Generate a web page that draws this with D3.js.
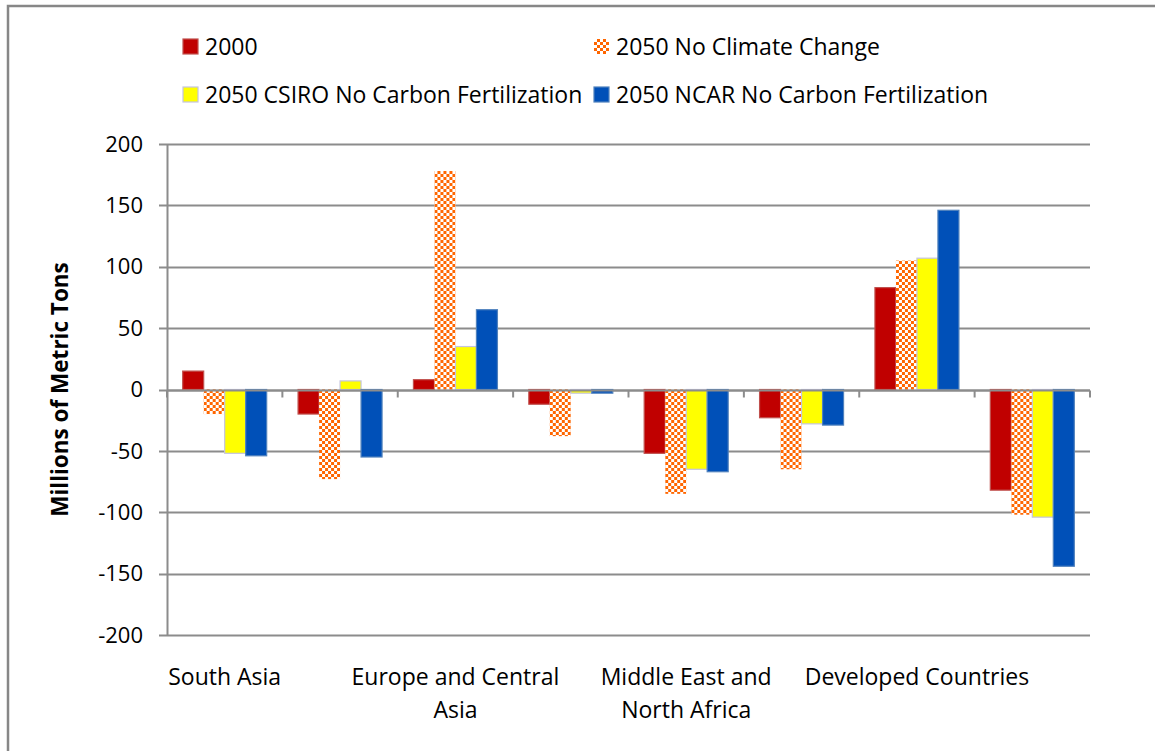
<!DOCTYPE html>
<html>
<head>
<meta charset="utf-8">
<script src="https://cdn.jsdelivr.net/npm/d3@7"></script>
<style>
  html, body { margin: 0; padding: 0; background: #fff; }
  svg { display: block; font-family: "Open Sans", sans-serif; }
</style>
</head>
<body>
<svg id="chart" width="1155" height="751"></svg>
<script>
// Regions (only every other one gets an axis label, as in the source layout)
const categories = [
  "South Asia",
  "East Asia and Pacific",
  "Europe and Central Asia",
  "Latin America and Caribbean",
  "Middle East and North Africa",
  "Sub-Saharan Africa",
  "Developed Countries",
  "Developing Countries"
];

const seriesNames = [
  "2000",
  "2050 No Climate Change",
  "2050 CSIRO No Carbon Fertilization",
  "2050 NCAR No Carbon Fertilization"
];

// Net trade, millions of metric tons
const values2000      = [15, -20,   8, -12, -52, -23,  83,  -82];
const valuesNoCC      = [-20, -73, 178, -38, -85, -65, 105, -102];
const valuesCSIRO     = [-52,   7,  35,  -3, -65, -28, 107, -104];
const valuesNCAR      = [-54, -55,  65,  -3, -67, -29, 146, -144];

const yTicks = [-200, -150, -100, -50, 0, 50, 100, 150, 200];

const seriesValues = [values2000, valuesNoCC, valuesCSIRO, valuesNCAR];

const svg = d3.select("#chart");

// Pattern for the checkered series
const defs = svg.append("defs");
const pat = defs.append("pattern")
  .attr("id", "checker")
  .attr("patternUnits", "userSpaceOnUse")
  .attr("width", 6).attr("height", 6);
pat.append("rect").attr("width", 6).attr("height", 6).attr("fill", "#FF6600");
pat.append("rect").attr("x", 0).attr("y", 0).attr("width", 3).attr("height", 3).attr("fill", "#fff");
pat.append("rect").attr("x", 3).attr("y", 3).attr("width", 3).attr("height", 3).attr("fill", "#fff");

const fills   = ["#C00000", "url(#checker)", "#FFFF00", "#0050B8"];
const strokes = ["#C0504D", "none", "#C4C4E0", "#4F81BD"];

// Outer frame
svg.append("rect")
  .attr("x", 8).attr("y", 6)
  .attr("width", 1160).attr("height", 760)
  .attr("fill", "none")
  .attr("stroke", "#878787")
  .attr("stroke-width", 2.5);

const plot = { left: 167, right: 1090, top: 144, bottom: 635 };

const x0 = d3.scaleBand()
  .domain(categories)
  .range([plot.left, plot.right])
  .paddingInner(0.272)
  .paddingOuter(0.136);

const x1 = d3.scaleBand()
  .domain(d3.range(seriesNames.length))
  .range([0, x0.bandwidth()]);

const y = d3.scaleLinear()
  .domain([-200, 200])
  .range([plot.bottom, plot.top]);

// Gridlines
svg.append("g")
  .selectAll("line")
  .data(yTicks)
  .join("line")
  .attr("x1", plot.left - 8)
  .attr("x2", plot.right)
  .attr("y1", d => Math.round(y(d)) + 0.5)
  .attr("y2", d => Math.round(y(d)) + 0.5)
  .attr("stroke", "#8C8C8C")
  .attr("stroke-width", 2);

// Y axis line
svg.append("line")
  .attr("x1", plot.left + 0.5).attr("x2", plot.left + 0.5)
  .attr("y1", plot.top).attr("y2", plot.bottom + 1)
  .attr("stroke", "#8C8C8C")
  .attr("stroke-width", 2);

// Y tick labels
svg.append("g")
  .selectAll("text")
  .data(yTicks)
  .join("text")
  .attr("x", plot.left - 24)
  .attr("y", d => y(d))
  .attr("dy", "0.35em")
  .attr("text-anchor", "end")
  .attr("font-size", 22)
  .attr("fill", "#000")
  .text(d => d);

// Y axis title
svg.append("text")
  .attr("transform", `translate(68, ${(plot.top + plot.bottom) / 2}) rotate(-90)`)
  .attr("text-anchor", "middle")
  .attr("font-size", 22.5)
  .attr("font-weight", "bold")
  .text("Millions of Metric Tons");

// Bars
const groups = svg.append("g")
  .selectAll("g")
  .data(categories)
  .join("g")
  .attr("transform", d => `translate(${x0(d)},0)`);

groups.selectAll("rect")
  .data((c, ci) => seriesValues.map((vals, si) => ({ si, v: vals[ci] })))
  .join("rect")
  .attr("x", d => x1(d.si))
  .attr("width", x1.bandwidth())
  .attr("y", d => y(Math.max(0, d.v)))
  .attr("height", d => Math.abs(y(d.v) - y(0)))
  .attr("fill", d => fills[d.si])
  .attr("stroke", d => strokes[d.si])
  .attr("stroke-width", 1.2);

// Zero axis with category ticks
const zeroY = Math.round(y(0)) + 0.5;
svg.append("line")
  .attr("x1", plot.left).attr("x2", plot.right)
  .attr("y1", zeroY).attr("y2", zeroY)
  .attr("stroke", "#8C8C8C").attr("stroke-width", 2);

const step = (plot.right - plot.left) / categories.length;
svg.append("g")
  .selectAll("line")
  .data(d3.range(categories.length + 1))
  .join("line")
  .attr("x1", i => plot.left + i * step)
  .attr("x2", i => plot.left + i * step)
  .attr("y1", zeroY)
  .attr("y2", zeroY + 7)
  .attr("stroke", "#8C8C8C").attr("stroke-width", 2);

// Category labels: every other region, wrapped
const labelG = svg.append("g");
const wrapWidth = 232;
categories.forEach((c, i) => {
  if (i % 2 !== 0) return;
  const cx = x0(c) + x0.bandwidth() / 2;
  const t = labelG.append("text")
    .attr("x", cx)
    .attr("y", 685)
    .attr("text-anchor", "middle")
    .attr("font-size", 23)
    .attr("fill", "#000");
  const words = c.split(" ");
  let line = [];
  let tspan = t.append("tspan").attr("x", cx).attr("dy", 0);
  words.forEach(w => {
    line.push(w);
    tspan.text(line.join(" "));
    if (tspan.node().getComputedTextLength() > wrapWidth && line.length > 1) {
      line.pop();
      tspan.text(line.join(" "));
      line = [w];
      tspan = t.append("tspan").attr("x", cx).attr("dy", 33).text(w);
    }
  });
});

// Legend
const legendPos = [
  { x: 183, y: 39 },
  { x: 594, y: 39 },
  { x: 183, y: 87 },
  { x: 594, y: 87 }
];
const legend = svg.append("g")
  .selectAll("g")
  .data(seriesNames)
  .join("g")
  .attr("transform", (d, i) => `translate(${legendPos[i].x},${legendPos[i].y})`);

legend.append("rect")
  .attr("width", 15).attr("height", 15)
  .attr("fill", (d, i) => fills[i])
  .attr("stroke", (d, i) => strokes[i])
  .attr("stroke-width", 1.2);

legend.append("text")
  .attr("x", 22)
  .attr("y", 7.5)
  .attr("dy", "0.35em")
  .attr("font-size", 23)
  .attr("fill", "#000")
  .text(d => d);
</script>
</body>
</html>
